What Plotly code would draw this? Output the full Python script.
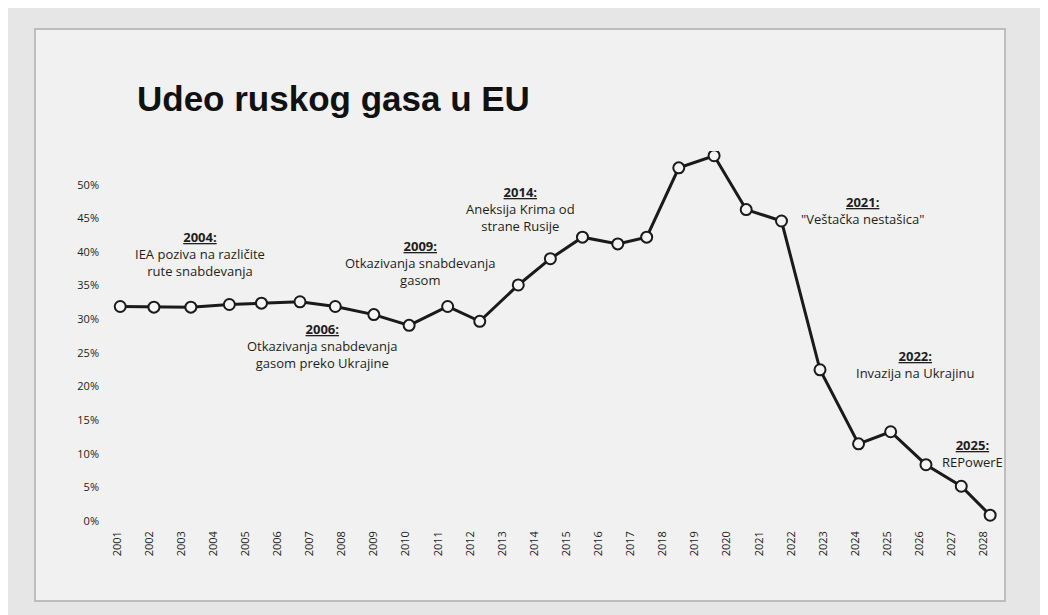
import plotly.graph_objects as go

years = [2001.1, 2002.15, 2003.3, 2004.5, 2005.5, 2006.7, 2007.8, 2009.0, 2010.1, 2011.3,
         2012.3, 2013.5, 2014.5, 2015.5, 2016.6, 2017.5, 2018.5, 2019.6, 2020.6, 2021.7,
         2022.9, 2024.1, 2025.1, 2026.2, 2027.3, 2028.2]
share = [31.9, 31.8, 31.8, 32.2, 32.4, 32.6, 31.9, 30.7, 29.1, 31.9,
         29.7, 35.1, 39.0, 42.2, 41.2, 42.2, 52.5, 54.3, 46.3, 44.6,
         22.5, 11.5, 13.3, 8.4, 5.2, 0.9]
tick_years = list(range(2001, 2029))
y_ticks = list(range(0, 51, 5))

notes = [
    ("2004:", "IEA poziva na različite<br>rute snabdevanja", 200, 234),
    ("2006:", "Otkazivanja snabdevanja<br>gasom preko Ukrajine", 322, 326),
    ("2009:", "Otkazivanja snabdevanja<br>gasom", 420, 243),
    ("2014:", "Aneksija Krima od<br>strane Rusije", 520, 189),
    ("2021:", "\"Veštačka nestašica\"", 862, 199),
    ("2022:", "Invazija na Ukrajinu", 915, 353),
    ("2025:", "REPowerE", 972, 442),
]

W, H = 1048, 615
OX, OY = 8, 7  # page offset of the figure
ML, MR, MT, MB = 92, 53, 143, 95
X0, X1 = 2000.47, 2028.6
Y0, Y1 = -1, 55
PW, PH = W - ML - MR, H - MT - MB

def px2x(px):
    return X0 + (px - OX - ML) / PW * (X1 - X0)

def py2y(py):
    return Y1 - (py - OY - MT) / PH * (Y1 - Y0)

def pxp(px):
    return (px - OX - ML) / PW

def pyp(py):
    return 1 - (py - OY - MT) / PH

fig = go.Figure(go.Scatter(
    x=years, y=share, mode="lines+markers",
    line=dict(color="#1a1a1a", width=3),
    marker=dict(size=11, color="#f4f4f4", line=dict(color="#1a1a1a", width=2)),
    hoverinfo="skip"))

anns = []
for yr, txt, cx, ty in notes:
    anns.append(dict(x=px2x(cx), y=py2y(ty), xref="x", yref="y", showarrow=False,
                     text=f"<b><u>{yr}</u></b><br>{txt}", align="center", yanchor="top",
                     yshift=9, font=dict(family="Open Sans", size=13, color="#1e1e1e")))
anns.append(dict(x=pxp(135), y=pyp(98), xref="paper", yref="paper",
                 text="<b>Udeo ruskog gasa u EU</b>", showarrow=False,
                 xanchor="left", yanchor="middle",
                 font=dict(family="Liberation Sans", size=35, color="#111")))

fig.update_layout(
    width=W, height=H, margin=dict(l=ML, r=MR, t=MT, b=MB),
    paper_bgcolor="#e6e6e6", plot_bgcolor="rgba(0,0,0,0)", showlegend=False,
    annotations=anns,
    shapes=[dict(type="rect", xref="paper", yref="paper", layer="below",
                 x0=pxp(35), x1=pxp(1005), y0=pyp(600), y1=pyp(28),
                 fillcolor="#f1f1f1", line=dict(color="#bdbdbd", width=2))],
    xaxis=dict(range=[X0, X1], tickvals=tick_years, ticktext=[str(t) for t in tick_years],
               tickangle=-90, showgrid=False, zeroline=False, showline=False,
               tickfont=dict(family="Open Sans", size=11, color="#222")),
    yaxis=dict(range=[Y0, Y1], tickvals=y_ticks, ticktext=[f"{v}%" for v in y_ticks],
               showgrid=False, zeroline=False, showline=False,
               tickfont=dict(family="Open Sans", size=11, color="#222")),
)
fig.write_html("out.html")
